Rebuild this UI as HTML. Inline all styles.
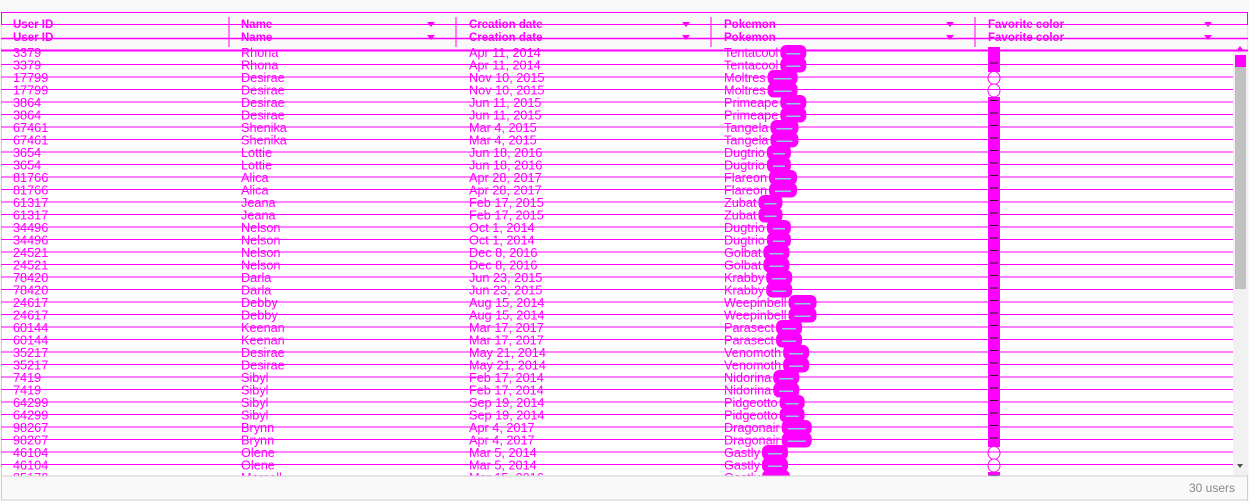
<!DOCTYPE html>
<html><head><meta charset="utf-8"><style>
html,body{margin:0;padding:0;background:#fff;width:1249px;height:501px;overflow:hidden}
svg{display:block;font-family:"Liberation Sans",sans-serif}
</style></head><body>
<svg id="s" width="1249" height="501">
<rect x="0" y="0" width="1249" height="501" fill="#f8f8f8"/>
<rect x="1.5" y="12.5" width="1246" height="487" fill="#fff" stroke="#d0d0d0"/>
<rect x="1.5" y="12.5" width="1246" height="38" fill="#f9f9f9"/>
<g id="rows"></g>
<rect x="1.5" y="476" width="1246" height="24" fill="#f9f9f9" stroke="#cfcfcf"/>
<text x="1235" y="492" font-size="12" fill="#888" text-anchor="end">30 users</text>
<rect x="1233" y="51" width="15" height="424" fill="#f1f1f1"/>
<rect x="1235" y="55" width="11" height="234" fill="#c1c1c1"/>
<rect x="1235" y="55" width="11" height="12" fill="#ff00ff"/>
<polygon points="1237,50 1243,50 1240,46" fill="#ff00ff"/>
<polygon points="1237,464 1243,464 1240,468" fill="#505050"/>
<g id="hdr"></g>
<line x1="1" y1="12.5" x2="1248" y2="12.5" stroke="#ff00ff"/>
<line x1="1.5" y1="12" x2="1.5" y2="25" stroke="#ff00ff"/>
<line x1="1247.5" y1="12" x2="1247.5" y2="25" stroke="#ff00ff"/>
</svg>
<script>
const ids=["3379","17799","3864","67461","3654","81766","61317","34496","24521","78420","24617","60144","35217","7419","64299","98267","46104","85170"];
const names=["Rhona","Desirae","Desirae","Shenika","Lottie","Alica","Jeana","Nelson","Nelson","Darla","Debby","Keenan","Desirae","Sibyl","Sibyl","Brynn","Olene","Marcell"];
const dates=["Apr 11, 2014","Nov 10, 2015","Jun 11, 2015","Mar 4, 2015","Jun 18, 2016","Apr 28, 2017","Feb 17, 2015","Oct 1, 2014","Dec 8, 2016","Jun 23, 2015","Aug 15, 2014","Mar 17, 2017","May 21, 2014","Feb 17, 2014","Sep 19, 2014","Apr 4, 2017","Mar 5, 2014","Mar 15, 2016"];
const pokemon=["Tentacool","Moltres","Primeape","Tangela","Dugtrio","Flareon","Zubat","Dugtrio","Golbat","Krabby","Weepinbell","Parasect","Venomoth","Nidorina","Pidgeotto","Dragonair","Gastly","Gastly"];
const pillW=[26,30,26,28,24,28,24,24,26,26,28,26,26,26,25,30,26,28];
const colorFilled=[1,0,1,1,1,1,1,1,1,1,1,1,1,1,1,1,0,1];
const headers=["User ID","Name","Creation date","Pokemon","Favorite color"];
const colX=[13,241,469,724,988], sepX=[229,456,711,975], filtX=[431,686,950,1208];
const NS="http://www.w3.org/2000/svg", M="#ff00ff";
function mk(t,a,p){const e=document.createElementNS(NS,t);for(const k in a)e.setAttribute(k,a[k]);p.appendChild(e);return e;}
const R=document.getElementById('rows'),H=document.getElementById('hdr');
function hline(y,w,p){mk('line',{x1:1,y1:y,x2:1233,y2:y,stroke:M,'stroke-width':w},p);}
[28,41].forEach((by,j)=>{
  headers.forEach((h,c)=>{
    const t=mk('text',{x:colX[c],y:by,'font-size':11.5,'font-weight':'bold',fill:M},H);t.textContent=h;
    
    
    if(c>0){const f=mk('polygon',{points:`${filtX[c-1]-4},${by-6} ${filtX[c-1]+4},${by-6} ${filtX[c-1]},${by-1}`,fill:M},H);
      
      }
  });
});
sepX.forEach(x=>mk('line',{x1:x,y1:17,x2:x,y2:47,stroke:M},H));
mk('line',{x1:1,y1:24.5,x2:1248,y2:24.5,stroke:M},H);
mk('line',{x1:1,y1:38.5,x2:1248,y2:38.5,stroke:M,'stroke-width':1.5},H);
mk('line',{x1:1,y1:50.5,x2:1248,y2:50.5,stroke:M,'stroke-width':2},H);
let i=0;
for(let r=0;r<ids.length;r++){
  for(let d=0;d<2;d++){
    const base=57+12.5*i; if(base>482)break;
    const g=mk('g',{},R);
    
    
    const vals=[ids[r],names[r],dates[r],pokemon[r]];
    let pt;
    vals.forEach((v,c)=>{const t=mk('text',{x:colX[c],y:base,'font-size':12.7,fill:M},g);t.textContent=v;if(c==3)pt=t;});
    let tw=pokemon[r].length*6.8; try{tw=pt.getComputedTextLength();}catch(e){}
    const px=colX[3]+tw+2, w=pillW[r];
    const pill=mk('rect',{x:px,y:base-12,width:w,height:15,rx:6,fill:M},g);
    
    
    mk('rect',{x:px+6,y:base-4,width:w-12,height:1.5,fill:'#8ecae6'},g);
    if(colorFilled[r]){
      const sw=mk('rect',{x:988,y:base-10,width:12,height:12.5,fill:M},g);
      
      
      mk('line',{x1:990,y1:base-6.5,x2:998,y2:base-6.5,stroke:'#222','stroke-width':1},g);
    } else {
      const sw=mk('ellipse',{cx:994,cy:base-4,rx:6,ry:6.5,fill:'#fff',stroke:M},g);
      
      
    }
    if(i>0) hline(52+12.5*i,1,g);
    i++;
  }
}
</script>
</body></html>
